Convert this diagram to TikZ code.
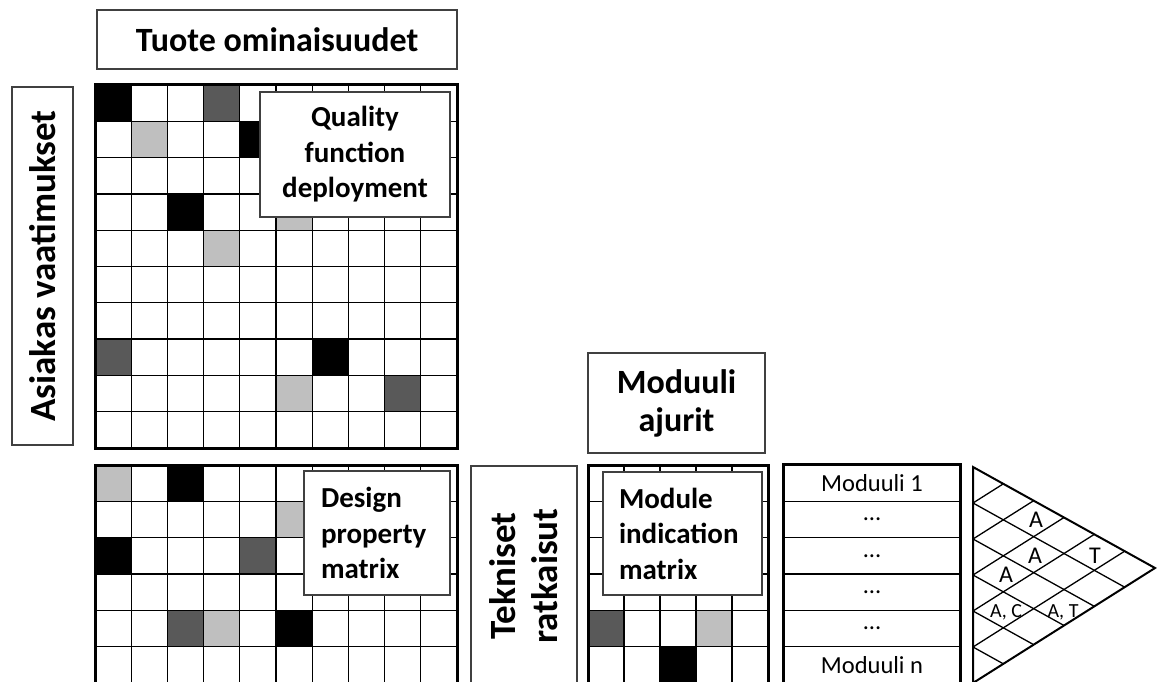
\documentclass[tikz,border=0pt]{standalone}
\usepackage{fontspec}
\setmainfont{Carlito}
\usetikzlibrary{calc}

\begin{document}
\begin{tikzpicture}[x=1pt, y=-1pt,
    box/.style={draw=black!75, line width=1.3pt, fill=white, inner sep=0pt,
      font=\bfseries\fontsize{34}{38}\selectfont, align=center},
    sidebox/.style={box, rotate=90, font=\bfseries\fontsize{37}{42}\selectfont},
    note/.style={box, font=\bfseries\fontsize{29}{35.5}\selectfont, align=left},
    gridline/.style={draw=black, line width=1.3pt},
    matframe/.style={draw=black, line width=3pt},
    bk/.style={fill=black}, dk/.style={fill=black!65}, lt/.style={fill=black!25},
    modrow/.style={gridline, minimum width=176, minimum height=36.3, inner sep=0pt,
      font=\fontsize{24.5}{28}\selectfont},
    tri/.style={inner sep=0pt, font=\fontsize{24}{26}\selectfont},
    trismall/.style={tri, font=\fontsize{20}{22}\selectfont}]
  \useasboundingbox (0,0) rectangle (1157,682);

  \begin{scope}[shift={(95,85)}, x=36.2pt, y=-36.3pt]
    \foreach \c/\r/\f in {0/0/bk, 3/0/dk, 1/1/lt, 4/1/bk, 2/3/bk, 5/3/lt, 3/4/lt,
                          0/7/dk, 6/7/bk, 5/8/lt, 8/8/dk}
      \fill[\f] (\c,\r) rectangle ++(1,1);
    \foreach \i in {1,...,9}
      \draw[gridline] (\i,0) -- (\i,10) (0,\i) -- (10,\i);
    \draw[matframe] (0,0) rectangle (10,10);
  \end{scope}

  \begin{scope}[shift={(95,465)}, x=36.2pt, y=-36.3pt]
    \foreach \c/\r/\f in {0/0/lt, 2/0/bk, 5/1/lt, 0/2/bk, 4/2/dk, 2/4/dk, 3/4/lt, 5/4/bk}
      \fill[\f] (\c,\r) rectangle ++(1,1);
    \foreach \i in {1,...,9}
      \draw[gridline] (\i,0) -- (\i,6.2);
    \foreach \i in {1,...,5}
      \draw[gridline] (0,\i) -- (10,\i);
    \draw[matframe] (0,6.2) -- (0,0) -- (10,0) -- (10,6.2);
  \end{scope}

  \begin{scope}[shift={(588,465)}, x=36pt, y=-36.3pt]
    \foreach \c/\r/\f in {0/4/dk, 3/4/lt, 2/5/bk}
      \fill[\f] (\c,\r) rectangle ++(1,1);
    \foreach \i in {1,...,4}
      \draw[gridline] (\i,0) -- (\i,6.2);
    \foreach \i in {1,...,5}
      \draw[gridline] (0,\i) -- (5,\i);
    \draw[matframe] (0,6.2) -- (0,0) -- (5,0) -- (5,6.2);
  \end{scope}

  \node[box, minimum width=360, minimum height=59] (tuote) at (277,39.5) {Tuote ominaisuudet};
  \node[sidebox, minimum width=358, minimum height=61] (asiakas) at (42.5,266) {Asiakas vaatimukset};
  \node[note, align=center, minimum width=190, minimum height=125] (qfd) at (355,154.5) {Quality\\function\\deployment};
  \node[note, minimum width=146, minimum height=124, inner xsep=17pt, text width=112] (dpm) at (377,533) {Design\\property\\matrix};
  \node[sidebox, minimum width=220, minimum height=106] (tekn) at (524,576) {Tekniset\\ratkaisut};
  \node[box, minimum width=177, minimum height=100] (ajurit) at (676.5,403) {Moduuli\\ajurit};
  \node[note, minimum width=159, minimum height=123, inner xsep=16pt, text width=127] (mim) at (682.5,533.5) {Module\\indication\\matrix};

  \node[modrow] (m1) at (872,483.2) {Moduuli 1};
  \node[modrow] (m2) at (872,519.5) {…};
  \node[modrow] (m3) at (872,555.8) {…};
  \node[modrow] (m4) at (872,592.1) {…};
  \node[modrow] (m5) at (872,628.4) {…};
  \node[modrow] (m6) at (872,664.7) {Moduuli n};
  \draw[matframe] (m6.south west) -- (m1.north west) -- (m1.north east) -- (m6.south east);

  \coordinate (tt) at (973,467);
  \coordinate (tb) at (973,683);
  \coordinate (ap) at (1155,568);
  \foreach \k in {1,...,5}
    \draw[gridline] ($(tt)!\k/6!(tb)$) -- ($(ap)!\k/6!(tb)$)
                    ($(tt)!\k/6!(tb)$) -- ($(ap)!{(6-\k)/6}!(tt)$);
  \draw[draw=black, line width=2pt] (tt) -- (ap) -- (tb) -- cycle;

  \node[tri] (a02) at (1036,520) {A};
  \node[tri] (a13) at (1035,556) {A};
  \node[tri] (t04) at (1095,556) {T};
  \node[tri] (a23) at (1006,575) {A};
  \node[trismall] (ac34) at (1006,612) {A, C};
  \node[trismall] (at25) at (1063,612) {A, T};
\end{tikzpicture}
\end{document}
